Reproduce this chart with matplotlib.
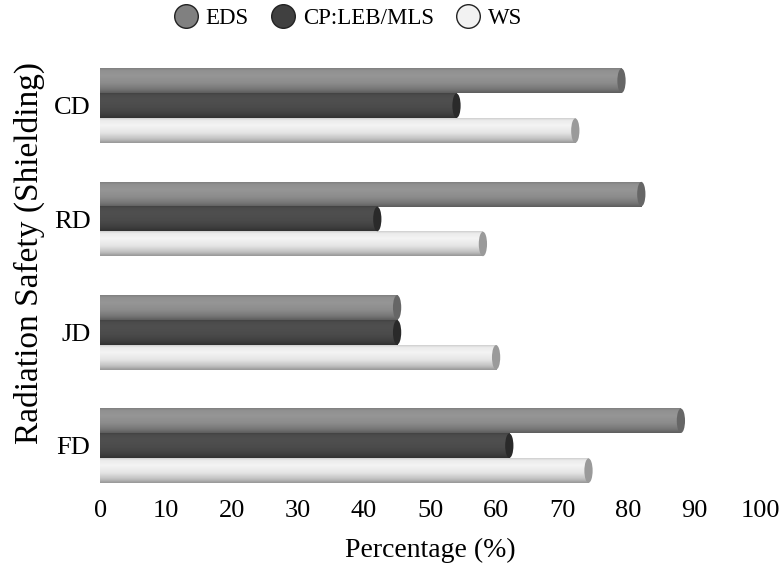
import numpy as np
import matplotlib
matplotlib.use("Agg")
import matplotlib.pyplot as plt
from matplotlib.patches import Ellipse
from matplotlib.lines import Line2D
from matplotlib.colors import to_rgb

plt.rcParams['font.family'] = ['Liberation Serif', 'DejaVu Serif']

categories = ["CD", "RD", "JD", "FD"]
series_names = ["EDS", "CP:LEB/MLS", "WS"]
eds = [79, 82, 45, 88]
cp = [54, 42, 45, 62]
ws = [72, 58, 60, 74]
x_ticks = [0, 10, 20, 30, 40, 50, 60, 70, 80, 90, 100]

body_colors = ["#8c8c8c", "#4a4a4a", "#e4e4e4"]
cap_colors = ["#666666", "#2a2a2a", "#9a9a9a"]
legend_colors = ["#808080", "#404040", "#f2f2f2"]

fig = plt.figure(figsize=(7.82, 5.69), dpi=100)
ax = fig.add_axes([0.128, 0.139, 0.844, 0.747])

bar_h = 0.22
offsets = [bar_h, 0.0, -bar_h]
ypos = np.arange(len(categories))[::-1].astype(float)  # CD on top

# vertical shading profile across a cylinder (top -> bottom)
t = np.linspace(0, 1, 64)
shade = np.interp(t, [0.0, 0.08, 0.3, 0.6, 0.85, 1.0],
                  [0.90, 1.03, 1.07, 1.0, 0.84, 0.66])

cap_w = 1.25
for s, vals in enumerate([eds, cp, ws]):
    base = np.array(to_rgb(body_colors[s]))
    grad = np.clip(base[None, :] * shade[:, None], 0, 1)[:, None, :]
    for yc, v in zip(ypos, vals):
        y = yc + offsets[s]
        ax.imshow(grad, extent=[0, v, y - bar_h / 2, y + bar_h / 2],
                  aspect='auto', origin='upper', interpolation='bicubic',
                  zorder=2)
        ax.add_patch(Ellipse((v, y), cap_w, bar_h * 0.98,
                             facecolor=cap_colors[s], edgecolor='none',
                             zorder=3))

ax.set_xlim(0, 100)
ax.set_ylim(-0.39, 3.36)
ax.set_xticks(x_ticks)
ax.set_xticklabels([str(v) for v in x_ticks], fontsize=19)
ax.set_yticks(ypos)
ax.set_yticklabels(categories, fontsize=19)
ax.tick_params(length=0, pad=7)
for sp in ax.spines.values():
    sp.set_visible(False)

ax.set_xlabel("Percentage (%)", fontsize=20, labelpad=12)
ax.set_ylabel("Radiation Safety (Shielding)", fontsize=24)
ax.yaxis.set_label_coords(-0.083, 0.558)

handles = [Line2D([0], [0], marker='o', linestyle='none', markersize=17,
                  markerfacecolor=c, markeredgecolor='#222222',
                  markeredgewidth=1.0) for c in legend_colors]
fig.legend(handles, series_names, loc='center', ncol=3, frameon=False,
           bbox_to_anchor=(0.444, 0.968), fontsize=16.5, handletextpad=0.25,
           columnspacing=0.9, handlelength=1.2)

fig.savefig("out.png", dpi=100)
